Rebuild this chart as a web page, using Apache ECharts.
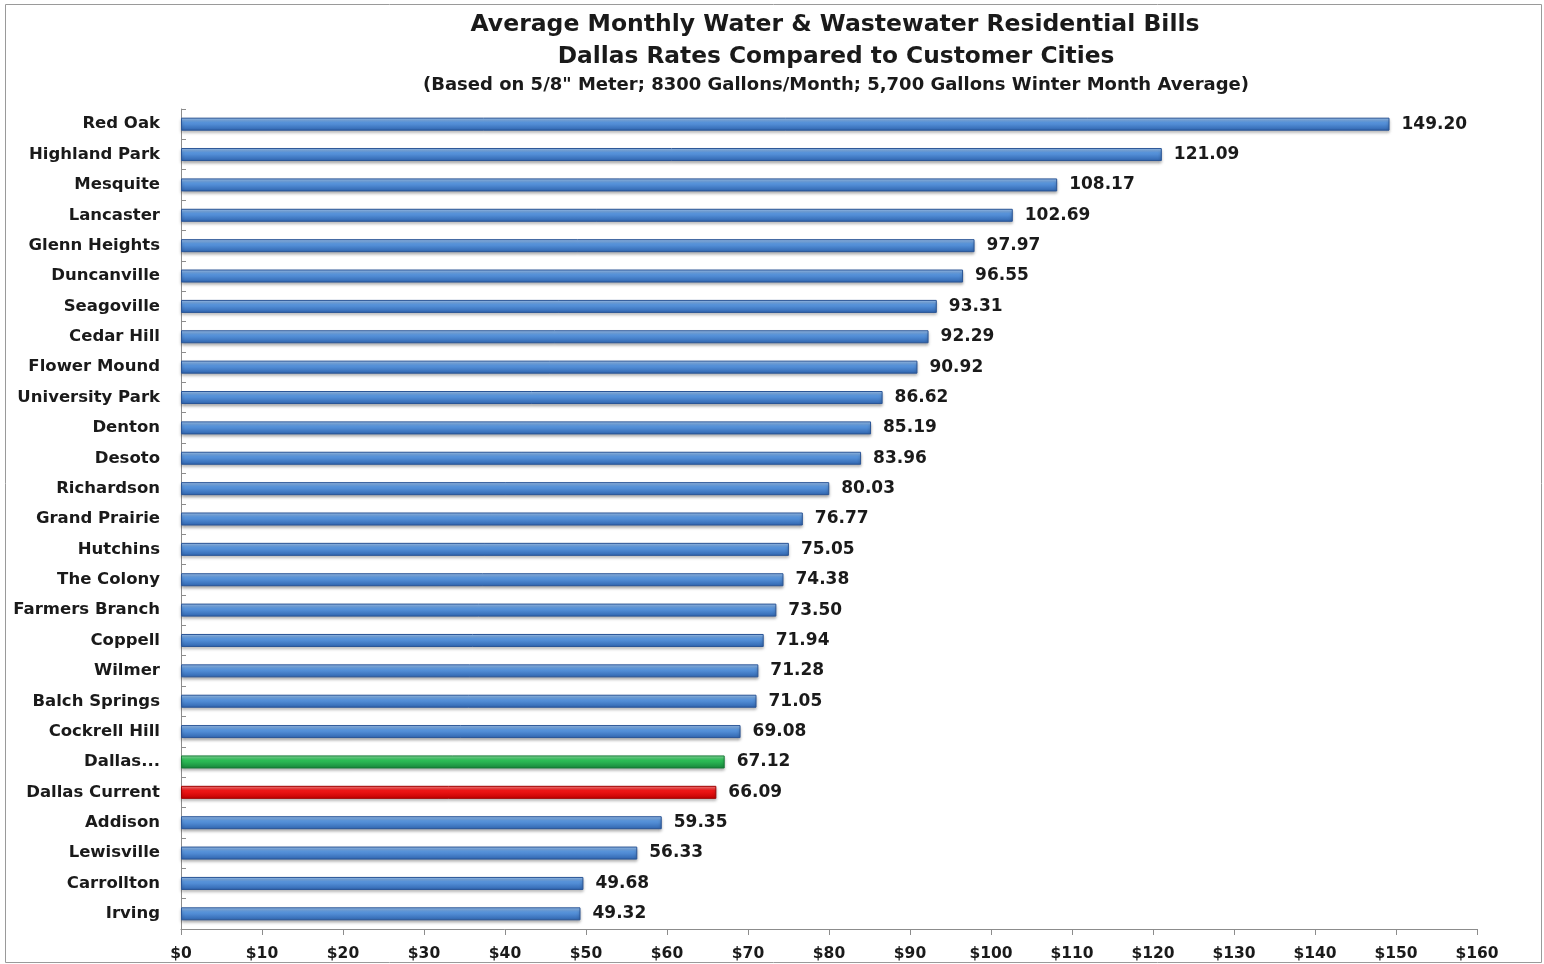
<!DOCTYPE html>
<html><head><meta charset="utf-8">
<script src="https://cdn.jsdelivr.net/npm/echarts@6/dist/echarts.min.js"></script>
<style>html,body{margin:0;padding:0;background:#fff}#c{width:1544px;height:964px}</style>
</head><body><div id="c"></div>
<script>
const cities = ["Red Oak","Highland Park","Mesquite","Lancaster","Glenn Heights","Duncanville","Seagoville","Cedar Hill","Flower Mound","University Park","Denton","Desoto","Richardson","Grand Prairie","Hutchins","The Colony","Farmers Branch","Coppell","Wilmer","Balch Springs","Cockrell Hill","Dallas...","Dallas Current","Addison","Lewisville","Carrollton","Irving"];
const bills = [149.20,121.09,108.17,102.69,97.97,96.55,93.31,92.29,90.92,86.62,85.19,83.96,80.03,76.77,75.05,74.38,73.50,71.94,71.28,71.05,69.08,67.12,66.09,59.35,56.33,49.68,49.32];
const highlight = {"Dallas...":"green","Dallas Current":"red"};
const titleLines = ["Average Monthly Water & Wastewater Residential Bills","Dallas Rates Compared to Customer Cities"];
const subtitle = "(Based on 5/8\" Meter; 8300 Gallons/Month; 5,700 Gallons Winter Month Average)";

const F = "DejaVu Sans, Verdana, sans-serif";
const TC = '#1a1a1a';
function grad(c1,c2,c3){return new echarts.graphic.LinearGradient(0,0,0,1,[{offset:0,color:c1},{offset:0.35,color:c2},{offset:1,color:c3}]);}
const palettes = {
  blue:{fill:grad('#a4c8f2','#5b98e0','#2f64ae'),border:'#2a5596'},
  green:{fill:grad('#8fe6a6','#2fc35a','#17843a'),border:'#157a35'},
  red:{fill:grad('#ff8a8a','#f41818','#c00000'),border:'#a00000'}
};
const data = bills.map((v,i)=>{
  const p = palettes[highlight[cities[i]]||'blue'];
  return {value:v,itemStyle:{color:p.fill,borderColor:p.border,borderWidth:1,shadowColor:'rgba(0,0,0,0.35)',shadowBlur:3,shadowOffsetY:2}};
});
const chart = echarts.init(document.getElementById('c'));
chart.setOption({
  animation:false,
  backgroundColor:'#fff',
  graphic:[
    {type:'rect',shape:{x:5.5,y:4.5,width:1536,height:958},style:{fill:'none',stroke:'#9a9a9a',lineWidth:1}},
    {type:'text',x:835,y:25,style:{text:titleLines[0],align:'center',verticalAlign:'middle',font:'bold 23.5px '+F,fill:TC}},
    {type:'text',x:836,y:57,style:{text:titleLines[1],align:'center',verticalAlign:'middle',font:'bold 23.3px '+F,fill:TC}},
    {type:'text',x:836,y:85,style:{text:subtitle,align:'center',verticalAlign:'middle',font:'bold 18px '+F,fill:TC}}
  ],
  grid:{left:181,right:67,top:109,bottom:35,containLabel:false},
  xAxis:{type:'value',min:0,max:160,interval:10,
    axisLine:{show:true,lineStyle:{color:'#8c8c8c'}},
    axisTick:{show:true,length:6,lineStyle:{color:'#8c8c8c'}},
    splitLine:{show:false},
    axisLabel:{formatter:v=>'$'+v,fontFamily:F,fontWeight:'bold',fontSize:15.5,color:TC,margin:17}},
  yAxis:{type:'category',data:cities,inverse:true,
    axisLine:{show:true,lineStyle:{color:'#8c8c8c'}},
    axisTick:{show:true,inside:true,length:5,lineStyle:{color:'#8c8c8c'}},
    axisLabel:{fontFamily:F,fontWeight:'bold',fontSize:16.5,color:TC,margin:21}},
  series:[{type:'bar',data:data,barWidth:13,
    label:{show:true,position:'right',distance:12,formatter:p=>p.value.toFixed(2),fontFamily:F,fontWeight:'bold',fontSize:17,color:TC}}]
});
</script></body></html>
